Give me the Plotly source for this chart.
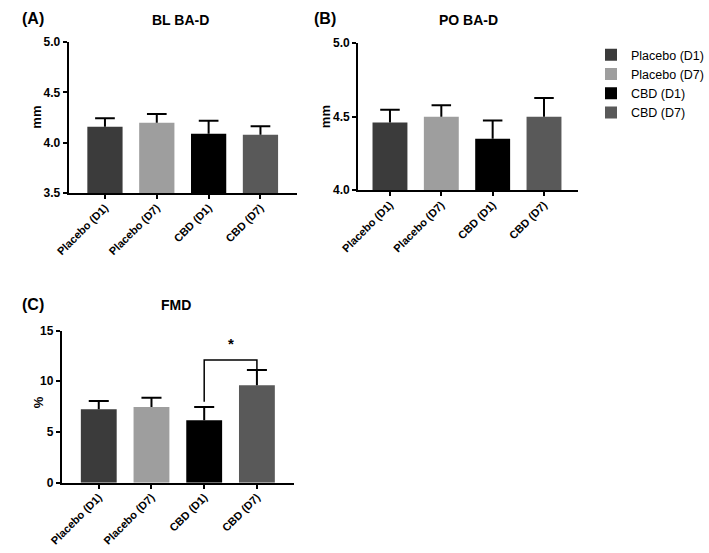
import plotly.graph_objects as go

groups = ["Placebo (D1)", "Placebo (D7)", "CBD (D1)", "CBD (D7)"]
colors = ["#3b3b3b", "#9e9e9e", "#000000", "#595959"]

bl_mean = [4.16, 4.20, 4.09, 4.08]
bl_sem = [0.085, 0.085, 0.13, 0.085]

po_mean = [4.46, 4.50, 4.35, 4.50]
po_sem = [0.087, 0.078, 0.123, 0.127]

fmd_mean = [7.25, 7.47, 6.15, 9.62]
fmd_sem = [0.8, 0.9, 1.32, 1.5]

W, H = 709, 553


def px_x(a, b):
    return [a / W, b / W]


def px_y(top, bottom):
    return [1 - bottom / H, 1 - top / H]


fig = go.Figure()

panels = [
    ("x", "y", bl_mean, bl_sem, False),
    ("x2", "y2", po_mean, po_sem, True),
    ("x3", "y3", fmd_mean, fmd_sem, False),
]

pos = list(range(len(groups)))
cap = 0.19

for xa, ya, mean, sem, legend in panels:
    for i, g in enumerate(groups):
        fig.add_trace(go.Bar(
            x=[pos[i]], y=[mean[i]], width=0.68, name=g,
            marker=dict(color=colors[i], line=dict(width=0)),
            xaxis=xa, yaxis=ya, showlegend=legend,
        ))
    ex, ey = [], []
    for i in pos:
        top = mean[i] + sem[i]
        ex += [i, i, None, i - cap, i + cap, None]
        ey += [mean[i], top, None, top, top, None]
    fig.add_trace(go.Scatter(x=ex, y=ey, mode="lines", line=dict(color="black", width=2),
                             xaxis=xa, yaxis=ya, showlegend=False, hoverinfo="skip"))

# significance bracket CBD (D1) vs CBD (D7)
br_top = 12.1
fig.add_trace(go.Scatter(
    x=[2, 2, 3, 3],
    y=[fmd_mean[2] + fmd_sem[2] + 0.5, br_top, br_top, fmd_mean[3] + fmd_sem[3]],
    mode="lines", line=dict(color="black", width=1.5),
    xaxis="x3", yaxis="y3", showlegend=False, hoverinfo="skip"))

xfont = dict(family="Liberation Sans, Arial", size=11, color="black", weight="bold")
yfont = dict(family="Liberation Sans, Arial", size=12, color="black", weight="bold")
xcommon = dict(tickvals=pos, ticktext=groups, tickangle=-45, tickfont=xfont,
               showline=True, linecolor="black", linewidth=2, ticks="outside",
               ticklen=4, tickwidth=2, tickcolor="black", showgrid=False,
               zeroline=False, fixedrange=True, ticklabelstandoff=-2)
ycommon = dict(tickfont=yfont, showline=True, linecolor="black", linewidth=2,
               ticks="outside", ticklen=4, tickwidth=2, tickcolor="black",
               showgrid=False, zeroline=False, fixedrange=True)

fig.update_layout(
    width=W, height=H,
    margin=dict(l=0, r=0, t=0, b=0),
    paper_bgcolor="white", plot_bgcolor="white",
    barmode="overlay",
    xaxis=dict(domain=px_x(52, 286), range=[-0.7, 3.7], anchor="y", **xcommon),
    yaxis=dict(domain=px_y(36, 191), range=[3.5, 5.0], dtick=0.5, tickformat=".1f",
               anchor="x", **ycommon),
    xaxis2=dict(domain=px_x(349, 575), range=[-0.62, 3.67], anchor="y2", **xcommon),
    yaxis2=dict(domain=px_y(37, 188), range=[4.0, 5.0], dtick=0.5, tickformat=".1f",
                anchor="x2", **ycommon),
    xaxis3=dict(domain=px_x(45, 283), range=[-0.7, 3.7], anchor="y3", **xcommon),
    yaxis3=dict(domain=px_y(332, 488), range=[0, 15], dtick=5, anchor="x3", **ycommon),
    legend=dict(x=1, y=1 - 34 / H, xanchor="right", yanchor="top",
                font=dict(family="Liberation Sans, Arial", size=12.5, color="black"),
                bgcolor="rgba(0,0,0,0)", tracegroupgap=0, itemwidth=30,
                itemclick=False, itemdoubleclick=False),
    showlegend=True,
)

bold = dict(family="Liberation Sans, Arial", color="black")
notes = [
    ("<b>(A)</b>", 2, 12, 16, "left"),
    ("<b>BL BA-D</b>", 167, 13, 14, "center"),
    ("<b>(B)</b>", 302, 12, 16, "left"),
    ("<b>PO BA-D</b>", 462, 13, 14, "center"),
    ("<b>(C)</b>", 2, 305, 16, "left"),
    ("<b>FMD</b>", 162, 306, 14, "center"),
]
for text, x, y, size, anchor in notes:
    fig.add_annotation(text=text, x=x / W, y=1 - y / H, xref="paper", yref="paper",
                       xanchor=anchor, yanchor="middle", showarrow=False,
                       font=dict(size=size, **bold))

for text, x, y in [("<b>mm</b>", 19, 113), ("<b>mm</b>", 315, 113), ("<b>%</b>", 21, 405)]:
    fig.add_annotation(text=text, x=x / W, y=1 - y / H, xref="paper", yref="paper",
                       xanchor="center", yanchor="middle", showarrow=False, textangle=-90,
                       font=dict(size=13, **bold))

fig.add_annotation(text="<b>*</b>", x=2.5, y=13.7, xref="x3", yref="y3",
                   showarrow=False, font=dict(size=15, **bold))

# page has default 8px body margin; drop it so the figure fills the window
fig.write_html("out.html", config={"displayModeBar": False},
               post_script="document.body.style.margin='0';")
